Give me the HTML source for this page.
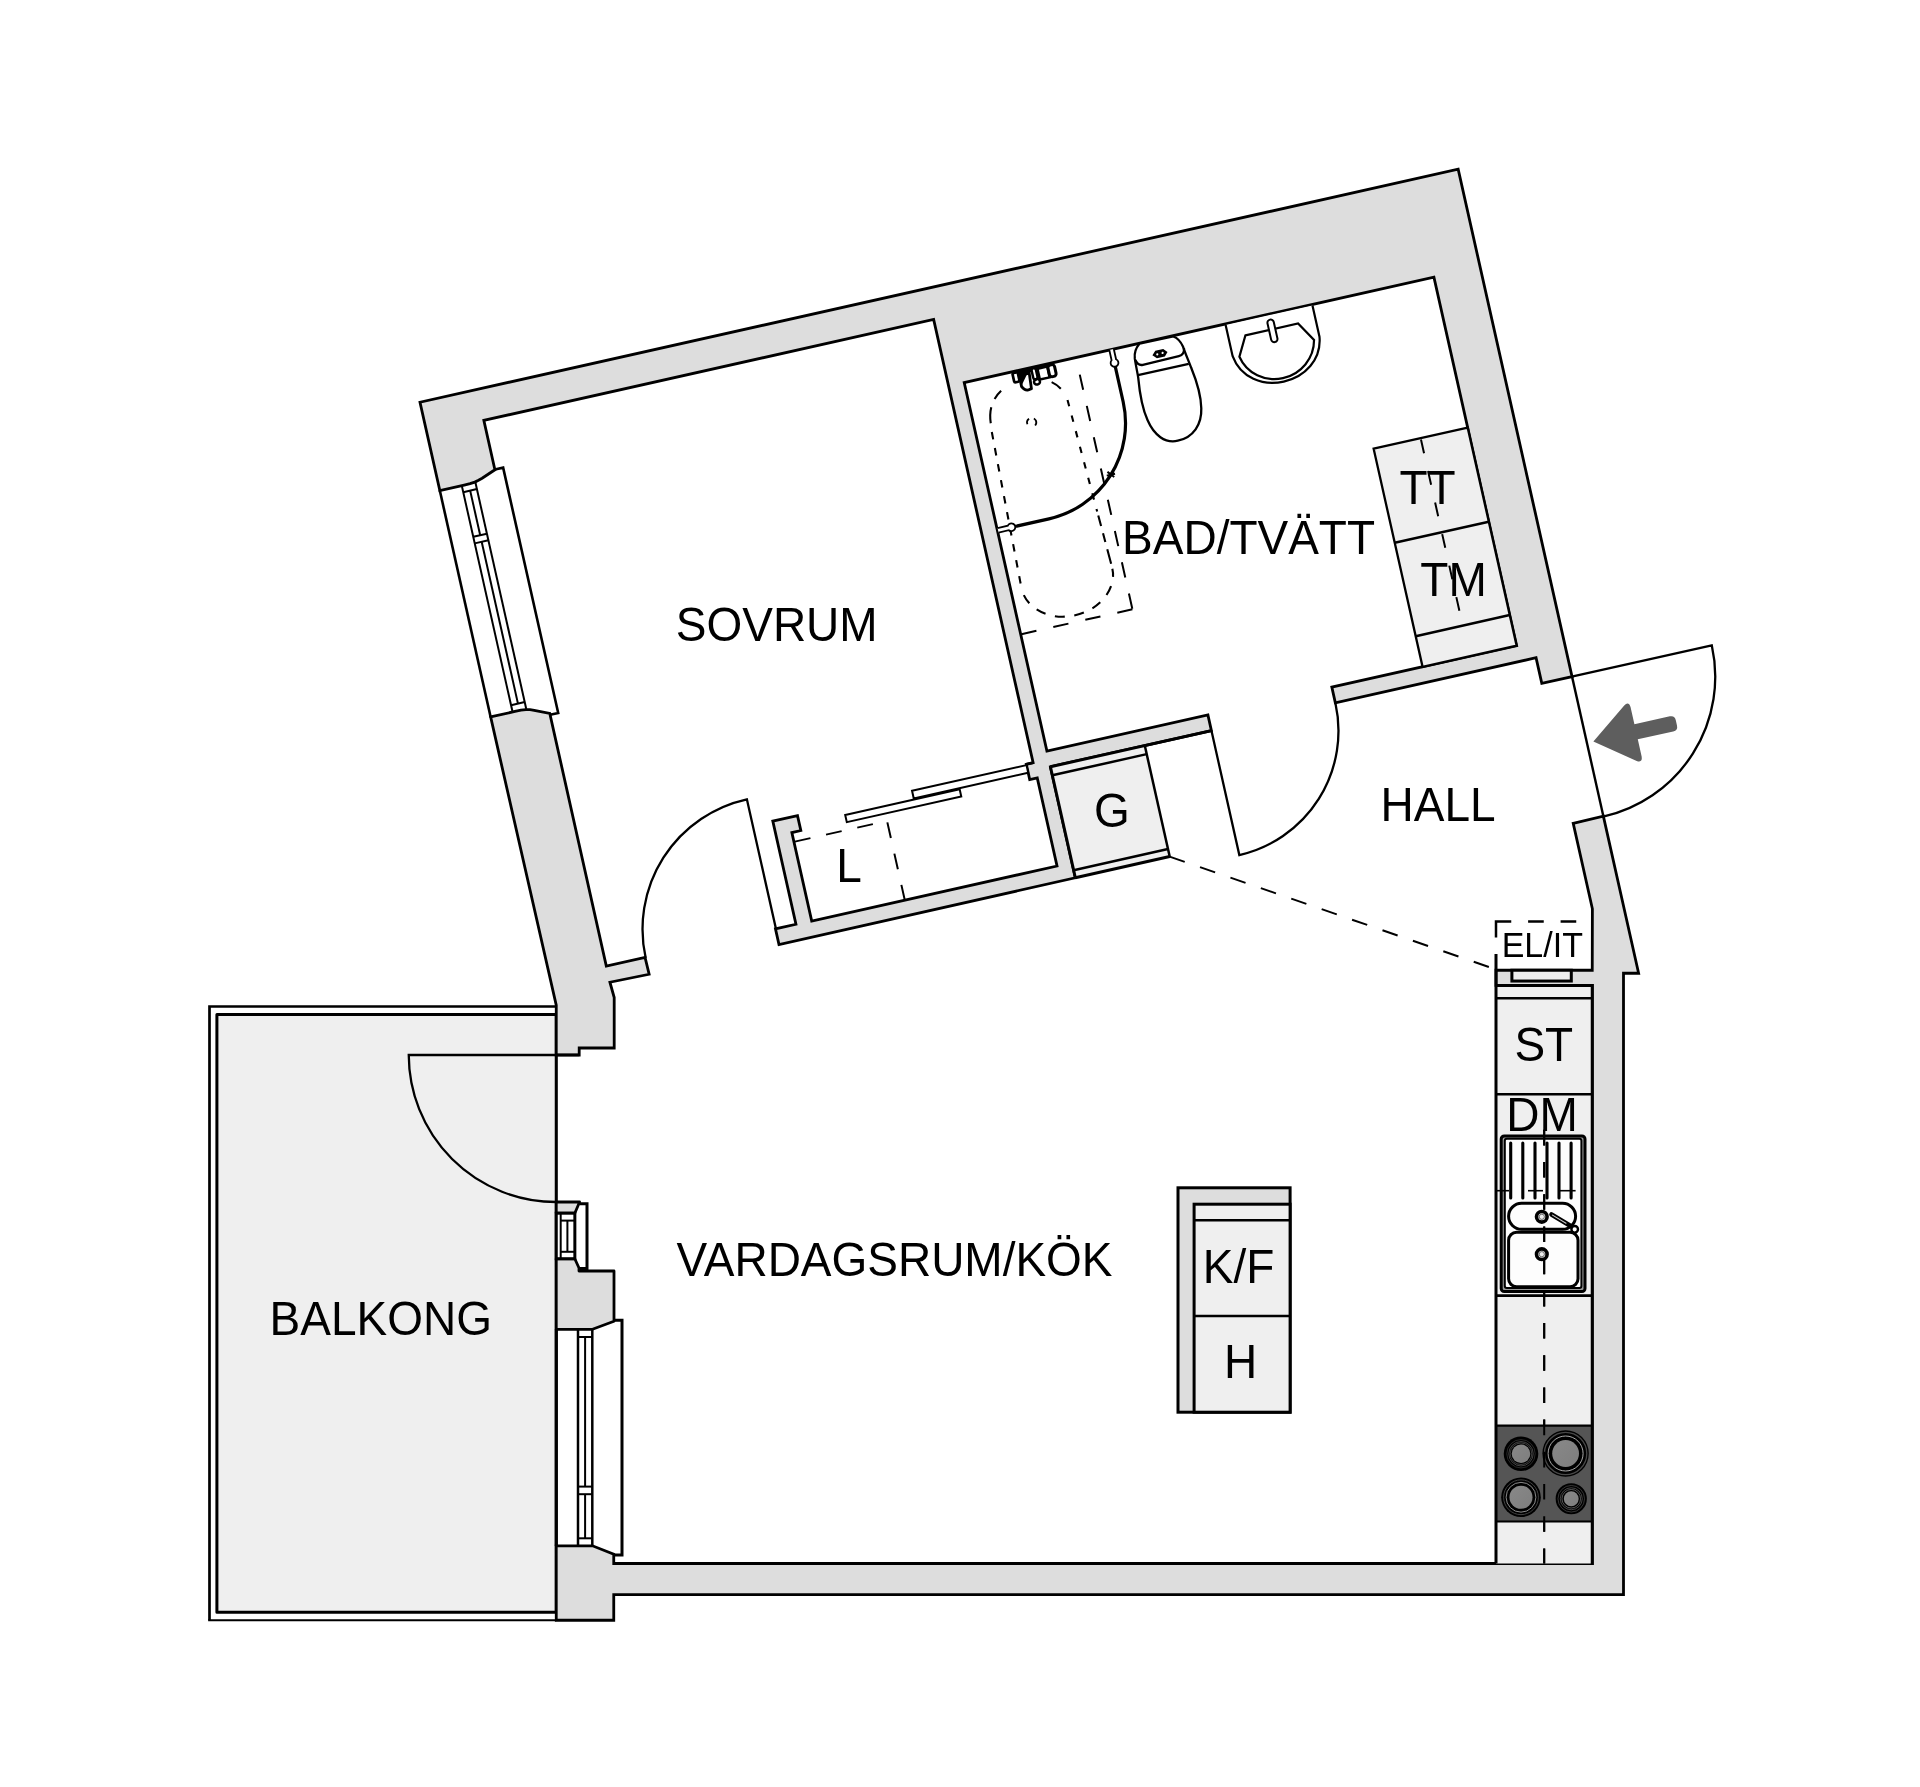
<!DOCTYPE html>
<html lang="sv"><head><meta charset="utf-8"><title>Planritning</title>
<style>html,body{margin:0;padding:0;background:#fff;overflow:hidden}svg{display:block;will-change:transform;filter:grayscale(1)}text{font-family:"Liberation Sans",Arial,sans-serif;fill:#000}</style>
</head><body>
<svg width="1920" height="1787" viewBox="0 0 1920 1787">
<defs><linearGradient id="bg" x1="0" y1="0" x2="1" y2="1"><stop offset="0" stop-color="#888"/><stop offset="1" stop-color="#7e7e7e"/></linearGradient></defs>
<rect width="1920" height="1787" fill="#fff"/>
<g id="walls"><polyline points="556.25,1006.5 209.5,1006.5 209.5,1620.25" fill="none" stroke="#000" stroke-width="2.7"/>
<line x1="208.15" y1="1620.25" x2="556.25" y2="1620.25" stroke="#000" stroke-width="2.1"/>
<rect x="216.9" y="1014.4" width="339.35" height="597.9" fill="#efefef" stroke="#000" stroke-width="3" stroke-linejoin="round"/>
<polygon points="439.82,490.55 420,402.25 1458.17,169.24 1572.05,676.62 1541.8,683.41 1536.04,657.74 1335.34,702.79 1331.83,687.18 1516.63,645.7 1433.92,277.17 964.21,382.59 1046.92,751.13 1207.91,714.99 1211.42,730.6 1050.42,766.74 1075.35,877.78 778.99,944.6 775.46,928.89 795.95,924.29 772.8,821.16 797.49,815.62 800.84,830.54 791.86,832.56 811.72,921.06 1057.02,866 1037.25,777.89 1029.73,779.58 1026.3,764.26 1033.13,762.73 933.64,319.46 483.83,420.41 494.91,469.78 482.14,478.19 478.5,480.23 474.81,482.08 470.04,483.67 464.21,485.08" fill="#dddddd" stroke="#000" stroke-width="2.8" />
<polygon points="490.63,716.92 515.02,711.45 520.9,710.23 525.88,709.62 530.01,709.72 534.24,710.31 549.79,713.38 606.31,966.14 645.05,957.44 649.13,974.26 609.92,982.24 614.2,997.5 614.2,1048 579.2,1048 579.2,1055 556.25,1055 556.25,1005.2" fill="#dddddd" stroke="#000" stroke-width="2.8" />
<polygon points="1573.21,823.33 1603.37,816.15 1638.62,973.24 1623.5,973.2 1623.5,1594.7 613.75,1594.7 613.75,1620.25 556.25,1620.25 556.25,1545.8 592.5,1545.8 613.75,1554.2 613.75,1563.5 1592.25,1563.5 1592.25,985.4 1496,985.4 1496,970.25 1592.25,970.25 1592.39,908.8" fill="#dddddd" stroke="#000" stroke-width="2.8" />
<polygon points="556.25,1258.75 574.8,1258.75 579,1268 579,1271 614,1271 614,1321.25 592.5,1329.3 556.25,1329.3" fill="#dddddd" stroke="#000" stroke-width="2.8" stroke-linejoin="round"/>
<polygon points="556.25,1202 579.6,1202 574.8,1213.2 556.25,1213.2" fill="#dddddd" stroke="#000" stroke-width="2.8" stroke-linejoin="round"/></g>
<g id="appliances"><polygon points="1373.63,448.74 1467.69,427.63 1516.63,645.7 1422.57,666.81" fill="#efefef" stroke="#000" stroke-width="2.3" />
<line x1="1394.74" y1="542.8" x2="1488.8" y2="521.69" stroke="#000" stroke-width="2.5" />
<line x1="1415.7" y1="636.18" x2="1509.76" y2="615.06" stroke="#000" stroke-width="2.5" />
<line x1="1420.97" y1="439.55" x2="1459.38" y2="610.69" stroke="#000" stroke-width="2" stroke-dasharray="14 18.3"/>
<polygon points="1050.42,766.74 1144.78,745.56 1169.65,856.4 1075.3,877.58" fill="#efefef" stroke="none" stroke-width="0" />
<line x1="1052.35" y1="775.32" x2="1146.7" y2="754.15" stroke="#000" stroke-width="2.5" />
<line x1="1073.64" y1="870.16" x2="1167.99" y2="848.99" stroke="#000" stroke-width="2.5" />
<line x1="1075.32" y1="877.68" x2="1169.68" y2="856.5" stroke="#000" stroke-width="3" />
<line x1="1144.78" y1="745.56" x2="1169.92" y2="857.57" stroke="#000" stroke-width="2.5" />
<line x1="1050.42" y1="766.74" x2="1075.35" y2="877.78" stroke="#000" stroke-width="3" />
<line x1="1050.42" y1="766.74" x2="1211.42" y2="730.6" stroke="#000" stroke-width="3" />
<rect x="1178" y="1187.8" width="112.1" height="224.4" fill="#dddddd" stroke="#000" stroke-width="3"/>
<rect x="1194.1" y="1204.2" width="96" height="208" fill="#efefef" stroke="#000" stroke-width="3"/>
<line x1="1194.1" y1="1220.2" x2="1290.1" y2="1220.2" stroke="#000" stroke-width="2.5" />
<line x1="1194.1" y1="1315.9" x2="1290.1" y2="1315.9" stroke="#000" stroke-width="2.5" /></g>
<g id="kitchen"><rect x="1496" y="985.4" width="96.25" height="578.1" fill="#efefef"/>
<rect x="1511.9" y="970.25" width="59.4" height="10.8" fill="#efefef" stroke="#000" stroke-width="3"/>
<line x1="1496" y1="985.4" x2="1592.25" y2="985.4" stroke="#000" stroke-width="3" />
<line x1="1496" y1="998.2" x2="1592.25" y2="998.2" stroke="#000" stroke-width="2.6" />
<line x1="1496" y1="1094.3" x2="1592.25" y2="1094.3" stroke="#000" stroke-width="2.6" />
<line x1="1496" y1="1295.6" x2="1592.25" y2="1295.6" stroke="#000" stroke-width="2.6" />
<rect x="1501.2" y="1136" width="83.8" height="155.5" rx="3" fill="#999" stroke="#000" stroke-width="3"/>
<rect x="1504.8" y="1138.8" width="76.6" height="149.2" rx="2" fill="#fdfdfd" stroke="#000" stroke-width="2"/>
<line x1="1510.7" y1="1143" x2="1510.7" y2="1198" stroke="#000" stroke-width="3.1" stroke-linecap="round"/>
<line x1="1522.8" y1="1143" x2="1522.8" y2="1198" stroke="#000" stroke-width="3.1" stroke-linecap="round"/>
<line x1="1535" y1="1143" x2="1535" y2="1198" stroke="#000" stroke-width="3.1" stroke-linecap="round"/>
<line x1="1547" y1="1143" x2="1547" y2="1198" stroke="#000" stroke-width="3.1" stroke-linecap="round"/>
<line x1="1559" y1="1143" x2="1559" y2="1198" stroke="#000" stroke-width="3.1" stroke-linecap="round"/>
<line x1="1571.1" y1="1143" x2="1571.1" y2="1198" stroke="#000" stroke-width="3.1" stroke-linecap="round"/>
<line x1="1497" y1="1190.7" x2="1509" y2="1190.7" stroke="#000" stroke-width="1.6" />
<line x1="1528" y1="1190.7" x2="1543" y2="1190.7" stroke="#000" stroke-width="1.6" />
<line x1="1560" y1="1190.7" x2="1575.6" y2="1190.7" stroke="#000" stroke-width="1.6" />
<rect x="1508.6" y="1203.3" width="67" height="26" rx="13" fill="none" stroke="#000" stroke-width="3"/>
<rect x="1508.6" y="1232.3" width="69.4" height="54.4" rx="8" fill="none" stroke="#000" stroke-width="3"/>
<line x1="1544.2" y1="1129.8" x2="1544.2" y2="1563.5" stroke="#000" stroke-width="2" stroke-dasharray="15.6 16.6"/>
<circle cx="1541.8" cy="1216.8" r="5.3" fill="#eee" stroke="#000" stroke-width="3.6"/>
<circle cx="1541.8" cy="1216.8" r="2.6" fill="none" stroke="#333" stroke-width="0.7"/>
<circle cx="1541.8" cy="1254.2" r="5.3" fill="#eee" stroke="#000" stroke-width="3.6"/>
<circle cx="1541.8" cy="1254.2" r="2.6" fill="none" stroke="#333" stroke-width="0.7"/>
<line x1="1551.5" y1="1214.5" x2="1571.5" y2="1226.5" stroke="#000" stroke-width="4.6" stroke-linecap="round"/>
<line x1="1552.5" y1="1215.1" x2="1566" y2="1223.2" stroke="#000" stroke-width="1.1" stroke-linecap="round" style="stroke:#ccc"/>
<circle cx="1574.7" cy="1229.3" r="3.3" fill="#fff" stroke="#000" stroke-width="2.4"/>
<rect x="1496" y="1425.6" width="96.25" height="95.9" fill="#555"/>
<line x1="1496" y1="1425.6" x2="1592.25" y2="1425.6" stroke="#000" stroke-width="2.2" />
<line x1="1496" y1="1521.5" x2="1592.25" y2="1521.5" stroke="#000" stroke-width="2.2" />
<circle cx="1521" cy="1453.75" r="17.3" fill="#000"/><circle cx="1521" cy="1453.75" r="14.2" fill="none" stroke="#333" stroke-width="0.8"/><circle cx="1521" cy="1453.75" r="12.2" fill="none" stroke="#555" stroke-width="0.8"/><circle cx="1521" cy="1453.75" r="10.8" fill="none" stroke="#666" stroke-width="0.6"/><circle cx="1521" cy="1453.75" r="9.3" fill="url(#bg)"/>
<circle cx="1565.6" cy="1453.5" r="23.2" fill="#000"/><circle cx="1565.6" cy="1453.5" r="21.2" fill="none" stroke="#484848" stroke-width="1.3"/><circle cx="1565.6" cy="1453.5" r="17.5" fill="none" stroke="#aaa" stroke-width="1"/><circle cx="1565.6" cy="1453.5" r="13.4" fill="url(#bg)"/>
<circle cx="1521" cy="1497.25" r="19.8" fill="#000"/><circle cx="1521" cy="1497.25" r="17.4" fill="none" stroke="#484848" stroke-width="0.9"/><circle cx="1521" cy="1497.25" r="14.9" fill="none" stroke="#999" stroke-width="0.9"/><circle cx="1521" cy="1497.25" r="11.5" fill="url(#bg)"/>
<circle cx="1571.25" cy="1498.75" r="15.6" fill="#000"/><circle cx="1571.25" cy="1498.75" r="13.3" fill="none" stroke="#444" stroke-width="0.8"/><circle cx="1571.25" cy="1498.75" r="11" fill="none" stroke="#555" stroke-width="0.8"/><circle cx="1571.25" cy="1498.75" r="9.3" fill="none" stroke="#777" stroke-width="0.7"/><circle cx="1571.25" cy="1498.75" r="7.4" fill="url(#bg)"/>
<line x1="1544.2" y1="1129.8" x2="1544.2" y2="1563.5" stroke="#000" stroke-width="2" stroke-dasharray="15.6 16.6"/>
<line x1="1592.25" y1="984" x2="1592.25" y2="1565" stroke="#000" stroke-width="3" /></g>
<g id="windows"><line x1="439.71" y1="490.07" x2="490.74" y2="717.41" stroke="#000" stroke-width="2.6" />
<polyline points="494.84,469.49 503.14,467.63 558.21,713.03 550.11,714.84" fill="none" stroke="#000" stroke-width="2.6" />
<line x1="461.66" y1="485.14" x2="512.6" y2="712.09" stroke="#000" stroke-width="2" />
<line x1="475.32" y1="482.07" x2="526.26" y2="709.03" stroke="#000" stroke-width="2" />
<line x1="470.17" y1="490.61" x2="480.2" y2="535.3" stroke="#000" stroke-width="2" />
<line x1="481.67" y1="541.83" x2="517.97" y2="703.61" stroke="#000" stroke-width="2" />
<line x1="463.24" y1="492.16" x2="476.9" y2="489.1" stroke="#000" stroke-width="2" />
<line x1="473.27" y1="536.85" x2="486.93" y2="533.79" stroke="#000" stroke-width="2" />
<line x1="474.74" y1="543.39" x2="488.4" y2="540.32" stroke="#000" stroke-width="2" />
<line x1="511.05" y1="705.16" x2="524.71" y2="702.1" stroke="#000" stroke-width="2" />
<rect x="556.25" y="1213.2" width="18.6" height="45.5" fill="#fff" stroke="#000" stroke-width="3"/>
<line x1="560.7" y1="1213.2" x2="560.7" y2="1258.7" stroke="#000" stroke-width="2" />
<line x1="560.7" y1="1220.6" x2="574.8" y2="1220.6" stroke="#000" stroke-width="2" />
<line x1="560.7" y1="1251.8" x2="574.8" y2="1251.8" stroke="#000" stroke-width="2" />
<line x1="567.4" y1="1220.6" x2="567.4" y2="1251.8" stroke="#000" stroke-width="2" />
<polyline points="579.6,1203.8 587,1203.8 587,1268.5 579,1268.5" fill="none" stroke="#000" stroke-width="3" />
<line x1="556.25" y1="1329" x2="556.25" y2="1546" stroke="#000" stroke-width="3" />
<polyline points="613.75,1320.3 622,1320.3 622,1555 613.75,1555" fill="none" stroke="#000" stroke-width="3" />
<line x1="578" y1="1329.3" x2="578" y2="1545.8" stroke="#000" stroke-width="2.5" />
<line x1="592.3" y1="1329.3" x2="592.3" y2="1545.8" stroke="#000" stroke-width="2.5" />
<line x1="585.1" y1="1337" x2="585.1" y2="1486.6" stroke="#000" stroke-width="2" />
<line x1="585.1" y1="1494.2" x2="585.1" y2="1538.3" stroke="#000" stroke-width="2" />
<line x1="578" y1="1486.6" x2="592.3" y2="1486.6" stroke="#000" stroke-width="2" />
<line x1="578" y1="1494.2" x2="592.3" y2="1494.2" stroke="#000" stroke-width="2" />
<line x1="578" y1="1337" x2="592.3" y2="1337" stroke="#000" stroke-width="2" />
<line x1="578" y1="1538.3" x2="592.3" y2="1538.3" stroke="#000" stroke-width="2" /></g>
<g id="doors"><path d="M1571.76,676.68 L1711.77,645.26 A143.5 143.5 0 0 1 1603.18,816.7" fill="none" stroke="#000" stroke-width="2.3"/>
<line x1="1572.05" y1="676.62" x2="1603.37" y2="816.15" stroke="#000" stroke-width="2.4" />
<path d="M1211.42,730.6 L1239.34,855.01 A127.3 127.3 0 0 0 1335.4,703.08" fill="none" stroke="#000" stroke-width="2.3"/>
<path d="M775.95,928.78 L746.89,799.3 A133 133 0 0 0 645.69,958.02" fill="none" stroke="#000" stroke-width="2.3"/>
<path d="M579.2,1055 L408.75,1055 A147.3 147.3 0 0 0 556.25,1202" fill="none" stroke="#000" stroke-width="2.3"/>
<line x1="556.25" y1="1055" x2="556.25" y2="1202" stroke="#000" stroke-width="2" />
<polygon points="912.04,790.83 1026.49,765.14 1028.2,772.75 913.75,798.44" fill="#fff" stroke="#000" stroke-width="2" />
<polygon points="845.2,814.95 959.65,789.26 961.27,796.48 846.82,822.17" fill="#fff" stroke="#000" stroke-width="2" />
<line x1="1026.3" y1="764.26" x2="1033.13" y2="762.73" stroke="#000" stroke-width="2.5" />
<polyline points="794.82,841.63 887.03,820.94 904.81,900.17" fill="none" stroke="#000" stroke-width="2" stroke-dasharray="16 16"/>
<line x1="1169.6" y1="856.6" x2="1488.9" y2="967" stroke="#000" stroke-width="2" stroke-dasharray="16 16.18"/>
<polyline points="1496,937.5 1496,921.5 1511.25,921.5" fill="none" stroke="#000" stroke-width="2.5" />
<line x1="1528.1" y1="921.5" x2="1543.75" y2="921.5" stroke="#000" stroke-width="2.5" />
<line x1="1560.6" y1="921.5" x2="1576.25" y2="921.5" stroke="#000" stroke-width="2.5" />
<line x1="1496" y1="954" x2="1496" y2="1563.5" stroke="#000" stroke-width="3" /></g>
<g id="bath"><g transform="translate(420 402.25) rotate(-12.65)" fill="none" stroke="#000">
<path d="M649.8,117.5 L649.8,358" stroke-width="2" stroke-dasharray="15.5 16.56"/>
<path d="M649.8,358 L536,358" stroke-width="2" stroke-dasharray="15.5 17.3"/>
<path d="M552.3,145.5 C553.5,128 563,118 576,113" stroke-width="2.1" stroke-dasharray="16 9 10.5 50"/>
<path d="M609,113 C622,117 630,125 632.3,139.6" stroke-width="2.1" stroke-dasharray="11.5 50" stroke-dashoffset="-13"/>
<path d="M551.4,154.3 L546.2,312" stroke-width="2.1" stroke-dasharray="7.5 8.8"/>
<path d="M632.3,139.6 L636.8,255" stroke-width="2.1" stroke-dasharray="6.5 9.6"/><path d="M637,259 L639.1,312" stroke-width="2.1" stroke-dasharray="11 7.5 9 7.5 15 8 10 50"/>
<path d="M546.2,314 C546,332 564,351.3 592.6,351.3 C621,351.3 639.3,332 639.1,314" stroke-width="2.1" stroke-dasharray="9.9 9.6" stroke-dashoffset="-6.5"/>
<circle cx="592.4" cy="153.7" r="4.6" stroke-width="1.8" stroke-dasharray="6 5 8 50" transform="rotate(170 592.4 153.7)"/>
<path d="M686.2,117 L686.2,153.5 A98 98 0 0 1 588.2,251.5 L553,251.5" stroke-width="3.2"/>
<path d="M684,100 L684,110.5 A3.9 3.9 0 1 0 688.6,110.5 L688.6,100" stroke-width="1.8" fill="#fff"/>
<path d="M536,249.2 L546.5,249.2 A3.9 3.9 0 1 1 546.5,253.8 L536,253.8" stroke-width="1.8" fill="#fff"/>
<path d="M655.5,218.5 L661,225 M661.5,219.5 L655,225.5 M654,222 L662.5,222" stroke-width="2"/>
<rect x="589" y="99.6" width="33" height="4.8" fill="#000" stroke="none"/>
<rect x="584.3" y="101.4" width="5.4" height="9.6" rx="1.5" stroke-width="2.7" fill="#fff"/>
<path d="M590.6,105 L590.4,116.5 Q592.8,121.4 596.2,121.2 L599.6,120.6 L600.8,105 Z" stroke-width="2.8" fill="#fff" stroke-linejoin="round"/>
<path d="M590.6,105 L598.6,105.5 L591,115 Z" fill="#000" stroke="none"/>
<ellipse cx="606.5" cy="115.2" rx="3" ry="2.7" stroke-width="2.5" fill="#fff"/>
<rect x="603.7" y="101.2" width="4.4" height="11.2" rx="2" stroke-width="2.5" fill="#fff"/>
<rect x="609.8" y="102.6" width="10" height="11" stroke-width="2.5" fill="#fff"/>
<rect x="620.2" y="101.6" width="6.8" height="12" rx="2.8" stroke-width="3" fill="#fff"/>
<path d="M715,100.3 C710,104 707.5,109 707,114 C706.5,122 706.5,128 706.2,133 C704,150 703.5,165 706,177 C709,193 718,203.5 731,203.5 C747,203.5 758,193 761,177 C763.5,165 762.5,150 760,135 C759,128 757.5,120 756.7,113 C755.5,107 753,103 749.4,100.8 Z" stroke-width="2.3" fill="#fff"/>
<path d="M707.2,115.5 Q708.5,121.8 713.5,121.8 L750.5,121.2 Q756.5,121 757.3,114.5" stroke-width="2.3"/>
<path d="M706.5,130.7 L758.5,130.9" stroke-width="2.3"/>
<path d="M726,114.6 L729,111.6 L736.5,111.6 L739.3,114.6 L736.5,117.6 L729,117.6 Z" stroke-width="1.6" fill="#000"/>
<circle cx="729.9" cy="114.7" r="1.1" fill="#fff" stroke="none"/><circle cx="735.4" cy="114.5" r="1.1" fill="#fff" stroke="none"/>
<path d="M803,101 L803,133 C806,156 826,169 847.3,169 C869,169 889,156 892,133 L892,101" stroke-width="2.2" fill="#fff"/>
<path d="M820,115.5 L874,115.5 L886,135 C882,153 866,165.5 847.3,165.5 C829,165.5 813,153 809.5,135 Z" stroke-width="2.2" fill="#fff"/>
<rect x="844.2" y="105.5" width="6.4" height="23" rx="3.2" stroke-width="2" fill="#fff"/>
</g></g>
<g transform="translate(420 402.25) rotate(-12.65)"><path d="M1070.6,588 L1108.6,559.6 Q1113.8,556.2 1114.4,562.5 L1114.4,580.2 L1150.7,580.2 Q1155.7,580.2 1155.7,585.2 L1155.7,590.6 Q1155.7,595.6 1150.7,595.6 L1114.4,595.6 L1114.4,613.5 Q1113.8,619.8 1108.6,616.4 Z" fill="#5e5e5e"/></g>
<g id="labels"><text transform="translate(675.8 641.4) scale(1 1.04)" font-size="46">SOVRUM</text>
<text transform="translate(1122.12 553.5) scale(1 1.04)" font-size="46">BAD/TVÄTT</text>
<text transform="translate(1380.62 821.4) scale(1 1.04)" font-size="46">HALL</text>
<text transform="translate(676.54 1276) scale(1 1.04)" font-size="46">VARDAGSRUM/KÖK</text>
<text transform="translate(269.62 1334.6) scale(1 1.04)" font-size="46">BALKONG</text>
<text transform="translate(1399.48 503.5) scale(1 1.04)" font-size="46">TT</text>
<text transform="translate(1420.33 595.8) scale(1 1.04)" font-size="46">TM</text>
<text transform="translate(1093.95 826.7) scale(1 1.04)" font-size="46">G</text>
<text transform="translate(836.32 882.25) scale(1 1.04)" font-size="46">L</text>
<text transform="translate(1501.68 957) scale(1 1.04)" font-size="34">EL/IT</text>
<text transform="translate(1514.4 1061.4) scale(1 1.04)" font-size="46">ST</text>
<text transform="translate(1506.32 1130.6) scale(1 1.04)" font-size="46">DM</text>
<text transform="translate(1202.82 1283.3) scale(1 1.04)" font-size="46">K/F</text>
<text transform="translate(1224.12 1378.3) scale(1 1.04)" font-size="46">H</text></g>
</svg></body></html>
